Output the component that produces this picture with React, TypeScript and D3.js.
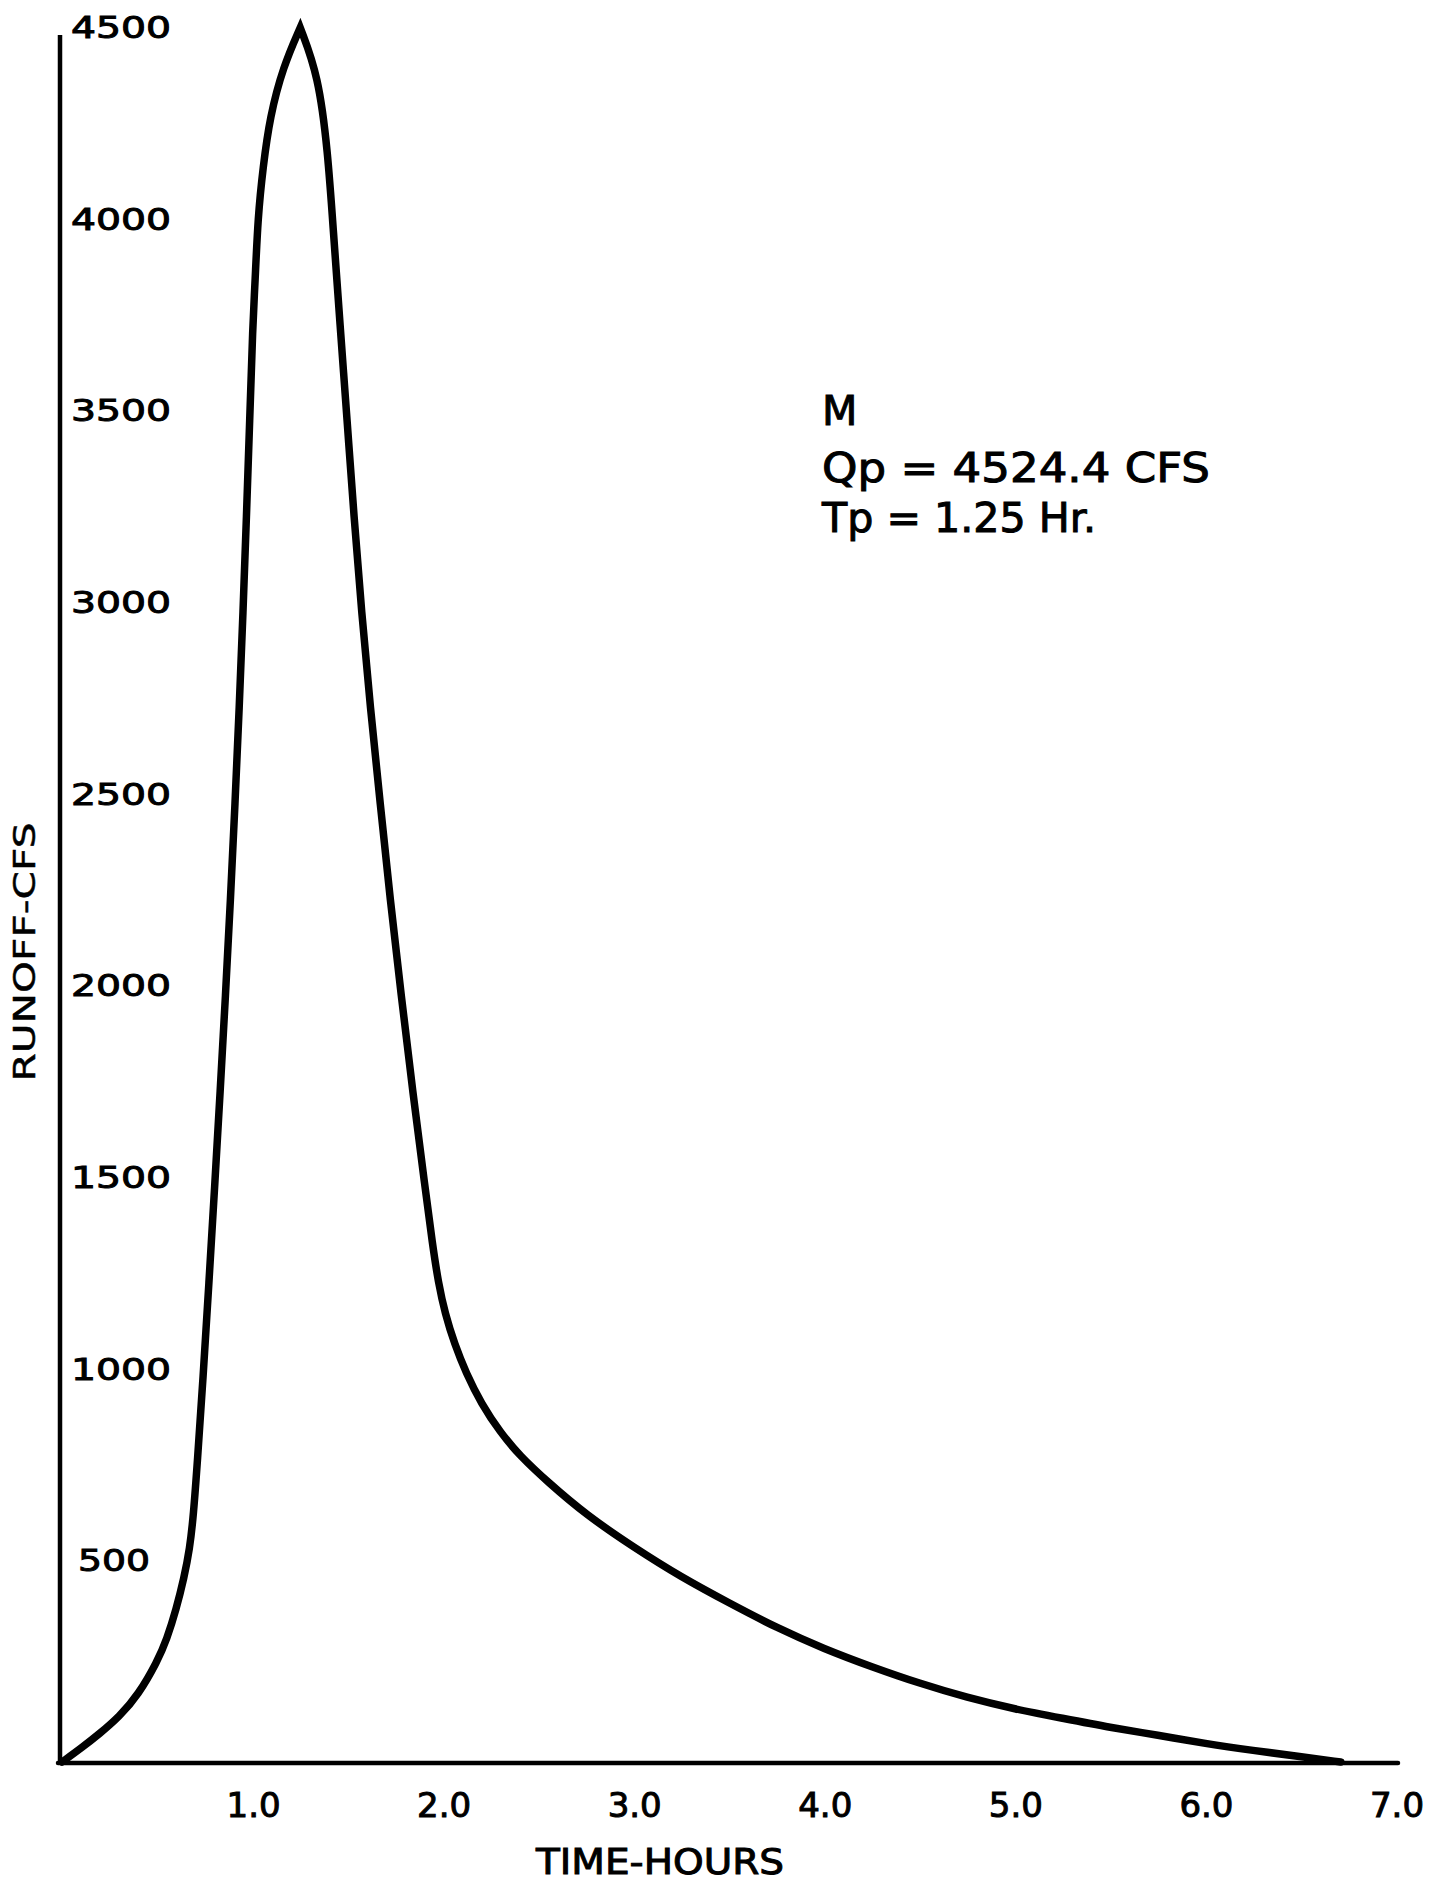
import * as d3 from 'd3'

// Unit hydrograph "M" — runoff (cfs) vs time (hours)
const riseHours = [0, 0.1, 0.2, 0.3, 0.4, 0.5, 0.55, 0.6, 0.64, 0.67, 0.69, 0.71, 0.74, 0.771, 0.801, 0.83, 0.858, 0.884, 0.908, 0.93, 0.95, 0.968, 0.985, 1.001, 1.013, 1.028, 1.055, 1.091, 1.16, 1.25]
const riseCfs = [0, 36, 75, 118, 175, 262, 320, 400, 480, 555, 645, 780, 1000, 1250, 1500, 1750, 2000, 2250, 2500, 2750, 3000, 3250, 3500, 3750, 3858, 4031, 4161, 4292, 4422, 4524.4]

const fallHours = [1.25, 1.345, 1.395, 1.423, 1.459, 1.496, 1.532, 1.572, 1.618, 1.67, 1.722, 1.78, 1.84, 1.905, 1.944, 1.975, 2.01, 2.06, 2.12, 2.2, 2.3, 2.4, 2.55, 2.75, 3.0, 3.25, 3.5, 3.75, 4.0, 4.25, 4.5, 4.75, 5.0, 5.25, 5.5, 5.75, 6.0, 6.25, 6.5, 6.71]
const fallCfs = [4524.4, 4400, 4200, 4000, 3750, 3500, 3250, 3000, 2750, 2500, 2250, 2000, 1750, 1500, 1350, 1250, 1170, 1090, 1015, 935, 860, 800, 730, 645, 560, 482, 415, 350, 295, 248, 205, 168, 138, 114, 90, 70, 48, 30, 14, 0]

const xTicks = [1, 2, 3, 4, 5, 6, 7]
const xTickLabels = ['1.0', '2.0', '3.0', '4.0', '5.0', '6.0', '7.0']
const yTicks = [500, 1000, 1500, 2000, 2500, 3000, 3500, 4000, 4500]

const noteLines = ['M', 'Qp = 4524.4 CFS', 'Tp = 1.25 Hr.']

const W = 1447
const H = 1884
const FONT = '"DejaVu Sans", "Liberation Sans", sans-serif'

export default function App() {
  const x = d3.scaleLinear().domain([0, 7]).range([62, 1396])
  const y = d3.scaleLinear().domain([0, 4500]).range([1762, 37])

  const line = d3.line<[number, number]>()
    .x(d => x(d[0]))
    .y(d => y(d[1]))
    .curve(d3.curveBasis)

  const rise = riseHours.map((t, i) => [t, riseCfs[i]] as [number, number])
  const fall = fallHours.map((t, i) => [t, fallCfs[i]] as [number, number])
  // sharp peak: each limb is smoothed on its own, then joined at Qp
  const pathD = (line(rise) || '') + (line(fall) || '').replace(/^M/, 'L')

  const ink = { fill: '#000', stroke: '#000', strokeWidth: 1 }

  return (
    <svg width={W} height={H} style={{ position: 'absolute', left: 0, top: 0, background: '#fff' }}
      fontFamily={FONT}>
      <rect width={W} height={H} fill="#fff" />

      {/* axes */}
      <line x1={x(0) - 2} x2={x(0) - 2} y1={y(4500) - 2} y2={y(0) + 2}
        stroke="#000" strokeWidth={4.5} />
      <line x1={x(0) - 4} x2={x(7) + 2} y1={y(0) + 1} y2={y(0) + 1}
        stroke="#000" strokeWidth={4.5} strokeLinecap="round" />

      {/* y tick labels */}
      {yTicks.map(v => (
        <text key={v} x={v < 1000 ? 78 : 71} y={y(v) + 1} fontSize={31}
          textLength={v < 1000 ? 72 : 100} lengthAdjust="spacingAndGlyphs" {...ink}>{v}</text>
      ))}

      {/* x tick labels */}
      {xTicks.map((t, i) => (
        <text key={t} x={x(t) + 1} y={1817} fontSize={34} textAnchor="middle"
          {...ink}>{xTickLabels[i]}</text>
      ))}

      {/* axis titles */}
      <text x={660} y={1874} fontSize={36} textAnchor="middle" textLength={248}
        lengthAdjust="spacingAndGlyphs" {...ink}>TIME-HOURS</text>
      <text transform="translate(35,952) rotate(-90)" fontSize={31} textAnchor="middle"
        textLength={259} lengthAdjust="spacingAndGlyphs" fill="#000" stroke="#000" strokeWidth={0.5}>RUNOFF-CFS</text>

      {/* hydrograph */}
      <path d={pathD} fill="none" stroke="#000" strokeWidth={7.5}
        strokeLinejoin="miter" strokeLinecap="round" />

      {/* annotation */}
      <text x={822} y={425} fontSize={41} {...ink}>{noteLines[0]}</text>
      <text x={822} y={482} fontSize={41} textLength={388} lengthAdjust="spacingAndGlyphs"
        {...ink}>{noteLines[1]}</text>
      <text x={822} y={532} fontSize={41} textLength={274} lengthAdjust="spacingAndGlyphs"
        {...ink}>{noteLines[2]}</text>
    </svg>
  )
}
